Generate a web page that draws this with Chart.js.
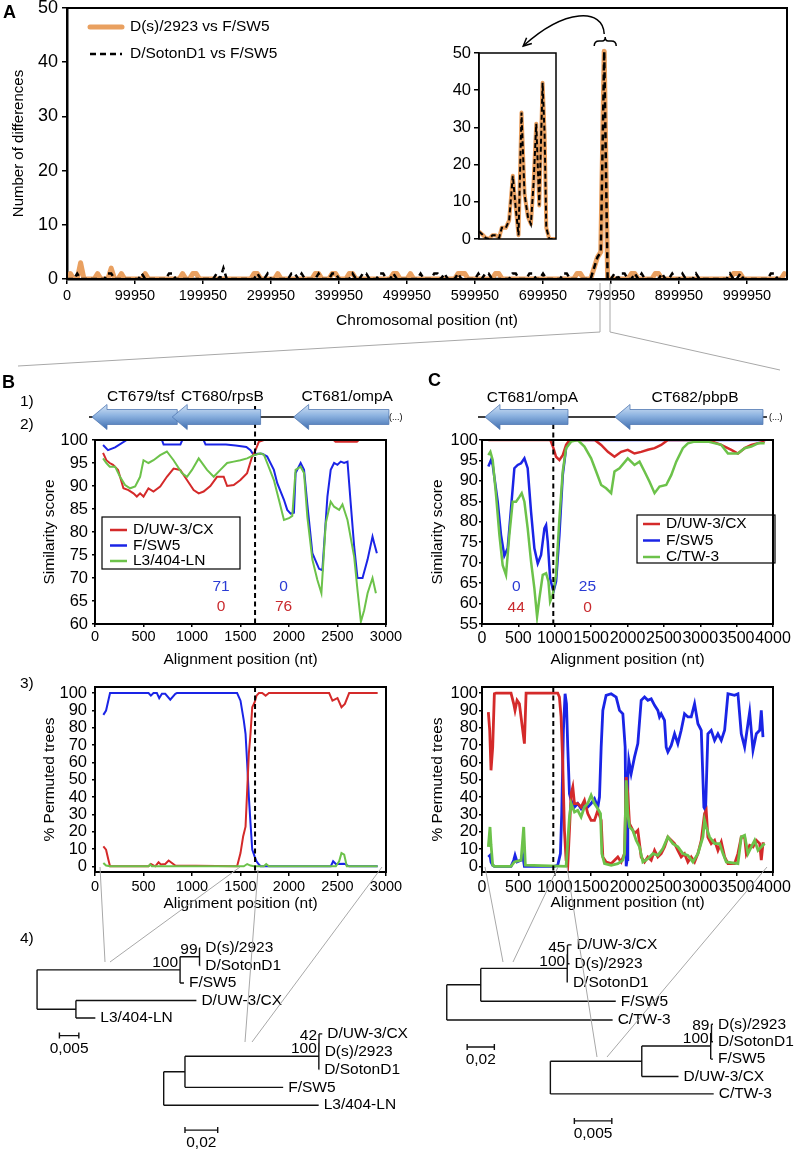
<!DOCTYPE html>
<html>
<head>
<meta charset="utf-8">
<title>ompA recombination</title>
<script src="https://cdn.jsdelivr.net/npm/chart.js@4.4.0/dist/chart.umd.min.js"></script>
<style>
  body { margin: 0; background: #fff; }
  #page { position: relative; width: 794px; height: 1155px; overflow: hidden; font-family: "Liberation Sans", Arial, sans-serif; }
  canvas { position: absolute; }
  .t { position: absolute; font-size: 15.5px; line-height: 1; color: #000; white-space: nowrap; z-index: 5; }
  .p { font-weight: bold; font-size: 18px; }
  .s { font-size: 9px; }
</style>
</head>
<body>
<div id="page">
  <canvas id="cA" width="794" height="335" style="left:0;top:0"></canvas>
  <canvas id="cInset" width="120" height="210" style="left:440px;top:40px"></canvas>
  <canvas id="cB2" width="410" height="290" style="left:0;top:385px"></canvas>
  <canvas id="cC2" width="394" height="290" style="left:400px;top:385px"></canvas>
  <canvas id="cB3" width="410" height="240" style="left:0;top:675px"></canvas>
  <canvas id="cC3" width="394" height="240" style="left:400px;top:675px"></canvas>
  <canvas id="tB1" width="380" height="140" style="left:20px;top:925px"></canvas>
  <canvas id="tB2" width="290" height="145" style="left:140px;top:1010px"></canvas>
  <canvas id="tC1" width="374" height="150" style="left:420px;top:920px"></canvas>
  <canvas id="tC2" width="274" height="150" style="left:520px;top:1005px"></canvas>
  <canvas id="guides" width="794" height="1155" style="left:0;top:0;z-index:4;pointer-events:none"></canvas>

  <div class="t p" style="left:3px;top:3px">A</div>
  <div class="t p" style="left:2px;top:373px">B</div>
  <div class="t p" style="left:428px;top:371px">C</div>
  <div class="t" style="left:20px;top:393px">1)</div>
  <div class="t" style="left:20px;top:416px">2)</div>
  <div class="t" style="left:20px;top:675px">3)</div>
  <div class="t" style="left:20px;top:930px">4)</div>
  <div class="t s" style="left:389px;top:413px">(...)</div>
  <div class="t s" style="left:769px;top:413px">(...)</div>
</div>

<script>
// ---------- A: differences per 5 kb window along the chromosome ----------
const aStep = 5000;
const aTicks = [0, 99950, 199950, 299950, 399950, 499950, 599950, 699950, 799950, 899950, 999950];
const aSpikePos = 790000;
const aOrange = [
  0,1,0,0,3,0,0,0,0,1, 0,0,0,2,0,0,1,0,0,0,
  0,0,0,1,0,0,0,0,0,0, 0,0,0,0,1,0,0,1,1,0,
  0,0,0,0,0,0,0,0,0,0, 0,0,0,0,0,1,1,0,0,0,
  0,0,1,0,0,0,0,0,0,0, 0,0,0,1,1,0,0,0,1,1,
  0,0,0,1,1,0,0,0,0,0, 0,0,0,0,0,0,1,1,0,0,
  0,1,0,0,0,0,0,0,0,0, 0,0,0,0,0,1,1,1,0,0,
  0,0,0,0,0,0,1,1,0,0, 0,0,0,0,0,0,0,0,0,0,
  0,0,0,0,0,0,0,0,0,0, 1,1,0,0,0,2,4,5,42,0,
  0,0,0,0,0,0,1,1,0,0, 0,0,0,1,1,0,0,0,0,0,
  0,0,0,0,0,0,0,0,0,0, 0,0,0,0,0,0,1,1,1,0,
  0,0,0,0,0,0,0,0,0,0, 0,1
];
const aBlack = [
  0,0,0,1,0,0,0,0,0,0, 0,0,1,1,0,0,0,0,0,0,
  0,0,1,0,0,0,0,0,0,0, 1,1,0,0,0,0,0,0,0,0,
  0,0,0,0,1,0,2,0,0,0, 0,0,0,0,0,0,1,0,0,1,
  0,0,0,0,0,0,1,1,0,1, 0,0,0,0,1,0,0,0,1,1,
  0,0,0,0,1,0,0,1,1,0, 0,0,1,1,0,0,1,0,0,0,
  0,0,0,0,1,0,0,0,1,1, 0,1,0,0,0,1,0,0,0,0,
  0,1,0,1,1,0,0,0,0,0, 0,1,1,0,0,0,1,1,0,0,
  1,0,0,0,0,0,1,1,0,0, 0,0,0,0,0,2,4,5,42,0,
  0,1,0,1,1,0,0,1,0,1, 0,0,0,0,0,1,0,0,1,0,
  0,1,0,0,0,1,0,0,0,0, 0,0,0,0,0,1,0,0,1,0,
  0,0,0,0,0,0,0,1,1,0, 0,0
];
// inset: zoom on the peak (window index, differences)
const insetPos  = [0, 1, 2, 3, 4, 5, 6, 6.8, 8, 9, 10.1, 10.9, 11.8, 12.7, 13.6, 14.6, 15.5, 16.3, 17.1, 18, 19, 19.6, 20.1, 21, 23];
const insetVals = [2, 1.2, 0.3, 0, 1, 1, 0.3, 3, 3, 5, 17, 9, 1, 34, 12, 6, 4, 15, 31, 9, 42, 28, 3, 0, 0];

// ---------- B: CT679-CT681 region ----------
const bTicksX = [0, 500, 1000, 1500, 2000, 2500, 3000];
const bTicksSim = [60, 65, 70, 75, 80, 85, 90, 95, 100];
const bBreak = 1650;
const bGeneNames = ["CT679/tsf", "CT680/rpsB", "CT681/ompA"];
const bGeneTip = [-31, 796, 2048];
const bGeneTail = [848, 1707, 3030];
const bMapSpan = [-62, 3030];
const bCountX = [1300, 1944];
const bCountsBlue = [71, 0];
const bCountsRed = [0, 76];
const b2Red = [[83,97.2],[117,95.6],[152,95],[186,94.6],[238,93.5],[293,89.5],[345,89.1],[396,88.4],[431,87.7],[465,88.4],[500,87.7],[551,89.5],[603,88.8],[672,89.9],[741,92],[810,93.8],[879,93.5],[948,91.3],[1017,89.1],[1069,88.4],[1120,88.8],[1189,90],[1258,92],[1327,92],[1362,90],[1430,90.2],[1499,91.3],[1568,92.8],[1620,96.4],[1655,97.8],[1689,99.6],[1741,100],[2460,100],[2480,99.6],[2700,99.6],[2720,100],[2920,100]];
const b2Blue = [[83,98.9],[134,97.8],[207,98.4],[327,100],[690,100],[707,99],[880,99],[900,100],[1120,100],[1140,99],[1350,99],[1450,98.8],[1560,98.5],[1603,97.8],[1637,96.7],[1672,97],[1723,97],[1741,96.8],[1775,96.4],[1844,93.5],[1879,90.6],[1948,87],[1982,84.8],[2017,84],[2051,84.2],[2068,92.8],[2120,95],[2155,93.5],[2189,86],[2241,75.4],[2310,72],[2344,71.7],[2396,87.7],[2430,93.5],[2465,95],[2499,94.6],[2534,95.3],[2568,95],[2603,95.3],[2637,86],[2672,76.8],[2706,70],[2758,70],[2810,74],[2861,79],[2879,77.5],[2906,75.4]];
const b2Green = [[83,96],[117,95],[152,94.2],[207,94.2],[258,92],[310,90.2],[362,89.5],[414,89.9],[465,92],[500,95.6],[551,95],[603,95.6],[672,96.7],[741,97.5],[810,95.6],[896,92.8],[948,92],[1000,93.5],[1069,96],[1155,93.5],[1224,92],[1292,93.5],[1362,95],[1430,95.3],[1499,95.6],[1568,96],[1637,96.7],[1706,97.1],[1741,96.8],[1775,95],[1844,91.3],[1896,87],[1948,82.6],[2000,83],[2034,83.5],[2068,93.5],[2120,94.2],[2155,92.8],[2189,83.3],[2241,74],[2292,69.6],[2334,66.7],[2379,81.9],[2430,86.6],[2465,85.5],[2517,84.8],[2551,86],[2603,82.6],[2672,74.6],[2706,67.4],[2741,60.5],[2775,63],[2810,66.7],[2861,70],[2896,66.7]];
const b3Red = [[86,11.5],[114,9.6],[138,3.8],[155,0],[552,0],[576,1.3],[621,0],[655,2.3],[679,1],[724,1.3],[759,3.3],[793,1.9],[828,0.4],[1465,0],[1500,7.6],[1527,17.2],[1552,22.9],[1569,44],[1586,65],[1603,76.5],[1621,91.8],[1645,94.6],[1665,98.5],[1690,100],[1724,100],[1759,98.5],[1793,100],[2414,100],[2448,95.6],[2500,97.1],[2541,91.8],[2576,93.7],[2620,100],[2914,100]];
const b3Blue = [[86,87.4],[114,89.9],[155,100],[552,100],[576,98.5],[603,100],[638,100],[662,97.1],[690,99.6],[724,99.6],[776,96.2],[828,99.6],[845,100],[1465,100],[1500,95.6],[1534,84.1],[1552,76.5],[1569,59.3],[1586,40.2],[1603,24.9],[1621,9.6],[1645,5.7],[1665,2.9],[1690,1],[1707,0],[2431,0],[2455,2.9],[2483,1.3],[2569,1.5],[2620,0],[2914,0]];
const b3Green = [[86,1.9],[114,0.4],[155,0],[552,0],[569,1],[586,0],[1534,0],[1569,1.3],[1603,0.4],[1638,0],[1741,0],[1765,1.3],[1793,0],[2483,0],[2517,2.9],[2541,7.6],[2569,6.7],[2596,0],[2914,0]];

// ---------- C: CT681-CT682 region ----------
const cTicksX = [0, 500, 1000, 1500, 2000, 2500, 3000, 3500, 4000];
const cTicksSim = [55, 60, 65, 70, 75, 80, 85, 90, 95, 100];
const cBreak = 980;
const cGeneNames = ["CT681/ompA", "CT682/pbpB"];
const cGeneTip = [41, 1828];
const cGeneTail = [1182, 3862];
const cMapSpan = [-55, 3917];
const cCountX = [470, 1450];
const cCountsBlue = [0, 25];
const cCountsRed = [44, 0];
const c2Red = [[87,100],[940,100],[982,98],[1018,95.9],[1064,95.1],[1110,96.3],[1156,98.8],[1202,100],[1550,100],[1638,98.8],[1730,97.1],[1821,95.9],[1913,97.1],[2004,97.6],[2096,96.7],[2188,97.1],[2280,97.6],[2372,98],[2463,98.8],[2555,100],[3105,100],[3289,98.8],[3427,97.6],[3518,96.7],[3610,98],[3702,98.8],[3794,99.2],[3885,99.6]];
const c2Blue = [[87,93.5],[124,95.1],[147,93.9],[216,84.9],[261,76.8],[307,71.7],[353,73.5],[399,83.3],[445,93.1],[491,93.9],[537,94.3],[583,95.5],[628,93.1],[674,82.5],[720,73.5],[766,69.8],[812,71.9],[858,78.4],[881,79.2],[904,75.1],[936,66.2],[982,62.9],[1018,65.4],[1064,76.8],[1110,91.4],[1156,98],[1202,100],[3900,100]];
const c2Green = [[87,96.3],[115,97.1],[147,95.1],[193,86.5],[239,76.8],[284,69.4],[330,67],[376,76.8],[422,84.9],[468,84.9],[514,86.1],[546,87],[583,84.9],[628,78.4],[674,70.3],[720,63.7],[757,56.8],[789,61.3],[835,67],[881,67.4],[913,65.4],[936,60.5],[972,62.1],[1018,67],[1064,80.8],[1110,92.3],[1156,98],[1225,99.6],[1316,100],[1408,98.4],[1500,95.5],[1569,92.3],[1638,89],[1706,88.2],[1775,87],[1821,92.3],[1890,93.1],[2004,95.5],[2096,93.9],[2165,94.7],[2234,92.3],[2303,89.8],[2372,87],[2440,88.6],[2532,89],[2601,91.4],[2670,94.7],[2761,98],[2830,99.2],[2922,99.6],[3105,99.6],[3289,98.8],[3381,96.7],[3518,96.7],[3610,98],[3702,98.4],[3794,99.2],[3885,99.2]];
const c3Red = [[87,89],[106,78.5],[124,55.4],[147,68.8],[170,99.6],[193,100],[399,100],[436,93.8],[454,90],[482,95.8],[514,93.8],[560,78.5],[583,70.8],[606,100],[1041,100],[1064,97.7],[1087,86.2],[1110,59.2],[1133,20.8],[1156,3.5],[1179,0.6],[1202,20.8],[1225,41.9],[1248,45.8],[1271,36.2],[1316,36.2],[1362,34.2],[1408,38.1],[1454,30.4],[1500,26.5],[1546,26.5],[1592,32.3],[1638,26.5],[1661,5.4],[1706,2.5],[1775,1.5],[1867,5.4],[1913,2.5],[1959,7.3],[1982,51.5],[2004,41.9],[2027,24.6],[2050,22.7],[2096,18.8],[2142,20.8],[2188,5.4],[2234,2.5],[2280,5.4],[2326,3.5],[2372,9.2],[2417,5.4],[2463,7.3],[2509,11.2],[2555,16.9],[2601,15],[2647,13.1],[2692,9.2],[2738,5.4],[2784,7.3],[2830,2.5],[2876,5.4],[2922,2.5],[2968,7.3],[3014,15],[3059,30.4],[3082,32.3],[3105,16.9],[3151,13.1],[3197,15],[3243,9.2],[3289,14],[3335,5.4],[3381,1.5],[3472,1.5],[3518,7.3],[3564,16.9],[3610,16.9],[3633,7.3],[3679,12.1],[3725,11.2],[3771,15],[3817,13.1],[3839,3.5],[3862,13.1],[3885,13.1]];
const c3Blue = [[87,5.4],[110,6.3],[124,2.5],[147,0.6],[170,0],[399,0],[436,3.5],[454,6.3],[482,2.5],[537,3.5],[560,6.3],[583,0],[995,0],[1041,0.6],[1078,7.3],[1096,30.4],[1119,78.5],[1142,99.6],[1161,93.8],[1179,68.8],[1202,41.9],[1225,38.1],[1271,34.2],[1316,36.2],[1362,33.3],[1408,36.2],[1454,34.2],[1500,36.2],[1546,39],[1592,34.2],[1615,40],[1638,68.8],[1661,90],[1706,98.7],[1775,99.6],[1844,97.7],[1890,90],[1936,88],[1968,68.8],[1982,0],[1995,3.8],[2004,49.6],[2018,61.2],[2050,53.5],[2096,63],[2142,70.8],[2188,95.8],[2234,97.7],[2280,95.8],[2326,96.7],[2372,92.9],[2417,90],[2440,86.2],[2463,88],[2509,84.2],[2532,68.8],[2555,66],[2601,69.8],[2647,76.5],[2692,70.8],[2738,78.5],[2784,88],[2830,86.2],[2876,86.2],[2922,93.8],[2968,82.3],[3014,78.5],[3050,34.2],[3073,32.3],[3105,76.5],[3151,78.5],[3197,72.7],[3243,76.5],[3289,72.7],[3335,78.5],[3381,99.6],[3472,98.7],[3518,99.6],[3564,76.5],[3610,68.8],[3656,82.3],[3679,89],[3725,67],[3771,76.5],[3817,78.5],[3839,90],[3862,74.6]];
const c3Green = [[87,11.2],[110,22.7],[124,12.6],[147,0.6],[170,0],[399,0],[445,2.5],[537,3.5],[573,22.7],[596,0.6],[1156,0],[1202,28.5],[1225,36.2],[1271,31.3],[1316,32.3],[1362,28.5],[1408,34.2],[1454,36.2],[1500,41],[1546,36.2],[1592,33.3],[1629,30.4],[1647,7.3],[1684,1.5],[1775,0.6],[1867,1.5],[1936,3.5],[1959,7.3],[1982,49.6],[2004,30.4],[2027,22.7],[2073,20.8],[2119,15],[2165,11.2],[2211,2.5],[2280,4.4],[2349,7.3],[2417,6.3],[2486,10.2],[2555,16.9],[2624,13.1],[2692,11.2],[2761,7.3],[2830,6.3],[2899,2.5],[2968,7.3],[3037,16.9],[3059,26.5],[3082,22.7],[3128,16.9],[3197,13.1],[3266,13.1],[3312,7.3],[3358,2.5],[3518,1.5],[3564,16.9],[3610,17.9],[3656,7.3],[3702,11.2],[3748,15],[3794,9.2],[3839,11.2],[3885,13.1]];
const permTicks = [0, 10, 20, 30, 40, 50, 60, 70, 80, 90, 100];

// ---------- trees (branch lengths, bootstrap) ----------
function leaf(len, name) { return { len, name }; }
function clade(len, support, kids) { return { len, support, kids }; }
const treeB1 = clade(0, "", [
  clade(0.0368, "100", [
    clade(0.005, "99", [leaf(0.0002, "D(s)/2923"), leaf(0.0002, "D/SotonD1")]),
    leaf(0.001, "F/SW5")]),
  clade(0.01, "", [leaf(0.031, "D/UW-3/CX"), leaf(0.005, "L3/404-LN")])
]);
const treeB2 = clade(0, "", [
  clade(0.013, "", [
    clade(0.0818, "100", [
      clade(0.0001, "42", [leaf(0.002, "D/UW-3/CX"), leaf(0.0004, "D(s)/2923")]),
      leaf(0.0002, "D/SotonD1")]),
    leaf(0.06, "F/SW5")]),
  leaf(0.0947, "L3/404-LN")
]);
const treeC1 = clade(0, "", [
  clade(0.025, "", [
    clade(0.0636, "100", [
      clade(0.0002, "45", [leaf(0.003, "D/UW-3/CX"), leaf(0.0015, "D(s)/2923")]),
      leaf(0.0005, "D/SotonD1")]),
    leaf(0.0993, "F/SW5")]),
  leaf(0.122, "C/TW-3")
]);
const treeC2 = clade(0, "", [
  clade(0.0122, "", [
    clade(0.0092, "100", [
      clade(0.0001, "89", [leaf(0.0002, "D(s)/2923"), leaf(0.0002, "D/SotonD1")]),
      leaf(0.0003, "F/SW5")]),
    leaf(0.0049, "D/UW-3/CX")]),
  leaf(0.0218, "C/TW-3")
]);

// ---------- styles ----------
const FONT = '"Liberation Sans", Arial, sans-serif';
const RED = "#d42a2a", BLUE = "#1a24e6", GREEN = "#6cc24a", ORANGE = "#e9a060";
Chart.defaults.font.family = FONT;
Chart.defaults.color = "#000";
Chart.defaults.animation = false;
Chart.defaults.responsive = false;
Chart.defaults.devicePixelRatio = 1;
Chart.defaults.plugins.legend.display = false;
Chart.defaults.plugins.tooltip.enabled = false;
Chart.defaults.elements.point.radius = 0;

function frame(w) {
  return {
    id: "frame",
    afterDatasetsDraw(chart) {
      const { ctx, chartArea: a } = chart;
      ctx.save();
      ctx.strokeStyle = "#000";
      ctx.lineWidth = w;
      ctx.strokeRect(a.left, a.top, a.right - a.left, a.bottom - a.top);
      ctx.restore();
    }
  };
}

function xAxis(min, max, ticks, o) {
  return {
    type: "linear", min, max,
    afterBuildTicks: s => { s.ticks = ticks.map(v => ({ value: v })); },
    afterFit: s => { s.height = o.h; s.paddingLeft = 0; s.paddingRight = 0; },
    border: { color: "#000", width: o.bw || 2 },
    grid: { drawOnChartArea: false, color: "#000", lineWidth: 1.5, tickLength: o.tl },
    ticks: { font: { size: o.fs }, padding: o.tp, maxRotation: 0, autoSkip: false, callback: v => String(v) },
    title: o.title ? { display: true, text: o.title, font: { size: 15.5 }, padding: { top: 0, bottom: o.titlePad } } : { display: false }
  };
}
function yAxis(min, max, ticks, o) {
  return {
    type: "linear", min, max,
    afterBuildTicks: s => { s.ticks = ticks.map(v => ({ value: v })); },
    afterFit: s => { s.width = o.w; s.paddingTop = 0; s.paddingBottom = 0; },
    border: { color: "#000", width: o.bw || 2 },
    grid: { drawOnChartArea: false, color: "#000", lineWidth: 1.5, tickLength: o.tl },
    ticks: { font: { size: o.fs }, padding: o.tp, autoSkip: false, callback: v => String(v) },
    title: o.title ? { display: true, text: o.title, font: { size: o.titleSize || 15.5 }, padding: { top: o.titlePad, bottom: 0 } } : { display: false }
  };
}

// legend drawn in the canvas at fixed spots
function seriesKey(o) {
  return {
    id: "seriesKey",
    afterDraw(chart) {
      const ctx = chart.ctx;
      ctx.save();
      if (o.box) {
        ctx.strokeStyle = "#000"; ctx.lineWidth = 1.2;
        ctx.strokeRect(o.box[0], o.box[1], o.box[2], o.box[3]);
      }
      ctx.font = "15.5px " + FONT;
      ctx.textBaseline = "middle";
      chart.data.datasets.forEach((ds, i) => {
        const y = o.y + i * o.rowH;
        ctx.strokeStyle = ds.borderColor;
        ctx.lineWidth = o.lw || ds.borderWidth;
        ctx.lineCap = ds.borderCapStyle || "butt";
        ctx.setLineDash(ds.borderDash || []);
        ctx.beginPath(); ctx.moveTo(o.x, y); ctx.lineTo(o.x + o.len, y); ctx.stroke();
        ctx.setLineDash([]);
        ctx.fillStyle = "#000";
        ctx.fillText(ds.label, o.x + o.len + o.gap, y);
      });
      ctx.restore();
    }
  };
}

function breakLine(pos, topPx) {
  return {
    id: "breakLine",
    afterDatasetsDraw(chart) {
      const { ctx, chartArea: a, scales: { x } } = chart;
      const px = x.getPixelForValue(pos);
      ctx.save();
      ctx.strokeStyle = "#000"; ctx.lineWidth = 2; ctx.setLineDash([5, 3.5]);
      ctx.beginPath(); ctx.moveTo(px, topPx == null ? a.top : topPx); ctx.lineTo(px, a.bottom); ctx.stroke();
      ctx.restore();
    }
  };
}

function geneMap(names, tips, tails, span, y, labelY) {
  return {
    id: "geneMap",
    afterDraw(chart) {
      const { ctx, scales: { x } } = chart;
      ctx.save();
      ctx.strokeStyle = "#000"; ctx.lineWidth = 1.5;
      ctx.beginPath(); ctx.moveTo(x.getPixelForValue(span[0]), y); ctx.lineTo(x.getPixelForValue(span[1]), y); ctx.stroke();
      names.forEach((name, i) => {
        const xt = x.getPixelForValue(tips[i]), xb = x.getPixelForValue(tails[i]);
        const hl = 15, bh = 7.5, hh = 12.5;
        const g = ctx.createLinearGradient(0, y - hh, 0, y + hh);
        g.addColorStop(0, "#d4e4f5"); g.addColorStop(0.45, "#8cb2e0"); g.addColorStop(1, "#3e6cae");
        ctx.beginPath();
        ctx.moveTo(xt, y); ctx.lineTo(xt + hl, y - hh); ctx.lineTo(xt + hl, y - bh); ctx.lineTo(xb, y - bh);
        ctx.lineTo(xb, y + bh); ctx.lineTo(xt + hl, y + bh); ctx.lineTo(xt + hl, y + hh); ctx.closePath();
        ctx.fillStyle = g; ctx.fill();
        ctx.strokeStyle = "#5279b2"; ctx.lineWidth = 0.8; ctx.stroke();
        ctx.fillStyle = "#000"; ctx.font = "15.5px " + FONT; ctx.textAlign = "center"; ctx.textBaseline = "middle";
        ctx.fillText(name, (xt + xb) / 2 + 6, labelY);
      });
      ctx.restore();
    }
  };
}

function counts(xs, blue, red, yBlue, yRed) {
  return {
    id: "counts",
    afterDraw(chart) {
      const { ctx, scales: { x, y } } = chart;
      ctx.save();
      ctx.font = "15.5px " + FONT; ctx.textAlign = "center"; ctx.textBaseline = "middle";
      xs.forEach((v, i) => {
        ctx.fillStyle = "#2a3bd4"; ctx.fillText(String(blue[i]), x.getPixelForValue(v), y.getPixelForValue(yBlue));
        ctx.fillStyle = "#c92a2e"; ctx.fillText(String(red[i]), x.getPixelForValue(v), y.getPixelForValue(yRed));
      });
      ctx.restore();
    }
  };
}

function lineSet(label, pts, color, width, order) {
  return { label, data: pts.map(p => ({ x: p[0], y: p[1] })), borderColor: color, borderWidth: width, order, pointRadius: 0 };
}

// ---------- panel A ----------
const calloutA = {
  id: "calloutA",
  afterDraw(chart) {
    const { ctx, scales: { x } } = chart;
    const sx = x.getPixelForValue(aSpikePos) + 1;
    ctx.save();
    ctx.strokeStyle = "#000"; ctx.lineWidth = 1.5;
    ctx.beginPath();
    ctx.moveTo(sx - 11, 46); ctx.quadraticCurveTo(sx - 11, 41, sx - 6, 41); ctx.lineTo(sx - 3, 41);
    ctx.quadraticCurveTo(sx, 41, sx, 37); ctx.quadraticCurveTo(sx, 41, sx + 3, 41); ctx.lineTo(sx + 6, 41);
    ctx.quadraticCurveTo(sx + 11, 41, sx + 11, 46);
    ctx.stroke();
    const tx = sx - 82, ty = 46;
    ctx.beginPath(); ctx.moveTo(sx - 1, 34); ctx.bezierCurveTo(sx - 2, 8, sx - 40, 8, tx, ty); ctx.stroke();
    const ang = Math.atan2(ty - 8, tx - (sx - 40));
    ctx.beginPath();
    ctx.moveTo(tx - 9 * Math.cos(ang - 0.45), ty - 9 * Math.sin(ang - 0.45));
    ctx.lineTo(tx, ty);
    ctx.lineTo(tx - 9 * Math.cos(ang + 0.45), ty - 9 * Math.sin(ang + 0.45));
    ctx.stroke();
    ctx.restore();
  }
};

new Chart(document.getElementById("cA"), {
  type: "line",
  data: {
    datasets: [
      { label: "D(s)/2923 vs F/SW5", data: aOrange.map((v, i) => ({ x: i * aStep, y: v })), borderColor: ORANGE, borderWidth: 5,
        borderCapStyle: "round", borderJoinStyle: "round", order: 2 },
      { label: "D/SotonD1 vs F/SW5", data: aBlack.map((v, i) => ({ x: i * aStep, y: v })), borderColor: "#000", borderWidth: 2.5,
        borderDash: [6, 4], order: 1 }
    ]
  },
  options: {
    layout: { padding: { left: 0, top: 8, right: 7, bottom: 0 } },
    scales: {
      x: xAxis(0, 1058800, aTicks, { h: 56, tl: 5, tp: 3, fs: 14.5, bw: 2.5, title: "Chromosomal position (nt)", titlePad: 4.5 }),
      y: yAxis(0, 50, [0, 10, 20, 30, 40, 50], { w: 67, tl: 5, tp: 4, fs: 18, bw: 2.5, title: "Number of differences", titleSize: 15, titlePad: 10 })
    }
  },
  plugins: [frame(2), seriesKey({ x: 90, y: 27, rowH: 27, len: 32, gap: 8, lw: 0 }), calloutA]
});

new Chart(document.getElementById("cInset"), {
  type: "line",
  data: {
    datasets: [
      { label: "D(s)/2923 vs F/SW5", data: insetPos.map((p, i) => ({ x: p, y: insetVals[i] })), borderColor: ORANGE, borderWidth: 4,
        borderJoinStyle: "round", order: 2 },
      { label: "D/SotonD1 vs F/SW5", data: insetPos.map((p, i) => ({ x: p, y: insetVals[i] })), borderColor: "#000", borderWidth: 2,
        borderDash: [5, 3], order: 1 }
    ]
  },
  options: {
    layout: { padding: { left: 0, top: 13, right: 4, bottom: 11 } },
    scales: {
      x: { type: "linear", min: 0, max: 23, display: false },
      y: yAxis(0, 50, [0, 10, 20, 30, 40, 50], { w: 39, tl: 5, tp: 3, fs: 16.5, bw: 1.5 })
    }
  },
  plugins: [frame(1.5)]
});

// ---------- panel B ----------
new Chart(document.getElementById("cB2"), {
  type: "line",
  data: { datasets: [
    lineSet("D/UW-3/CX", b2Red, RED, 2, 2),
    lineSet("F/SW5", b2Blue, BLUE, 2, 3),
    lineSet("L3/404-LN", b2Green, GREEN, 2, 1)
  ] },
  options: {
    layout: { padding: { left: 0, top: 55, right: 24, bottom: 0 } },
    scales: {
      x: xAxis(0, 3000, bTicksX, { h: 51, tl: 3, tp: 1, fs: 14.5, title: "Alignment position (nt)", titlePad: 5.7 }),
      y: yAxis(60, 100, bTicksSim, { w: 95, tl: 3, tp: 4, fs: 16.5, title: "Similarity score", titlePad: 40 })
    }
  },
  plugins: [frame(2), breakLine(bBreak, 21), geneMap(bGeneNames, bGeneTip, bGeneTail, bMapSpan, 32, 12),
    counts(bCountX, bCountsBlue, bCountsRed, 68, 63.7),
    seriesKey({ x: 110, y: 145, rowH: 15.5, len: 17, gap: 6, lw: 2.5, box: [102, 132, 138, 52] })]
});

new Chart(document.getElementById("cB3"), {
  type: "line",
  data: { datasets: [
    lineSet("D/UW-3/CX", b3Red, RED, 2, 2),
    lineSet("F/SW5", b3Blue, BLUE, 2, 3),
    lineSet("L3/404-LN", b3Green, GREEN, 2, 1)
  ] },
  options: {
    layout: { padding: { left: 0, top: 12, right: 24, bottom: 0 } },
    scales: {
      x: xAxis(0, 3000, bTicksX, { h: 43, tl: 4, tp: 2, fs: 14.5, title: "Alignment position (nt)", titlePad: 1.7 }),
      y: yAxis(-3.3, 103.5, permTicks, { w: 95, tl: 3, tp: 5, fs: 16.5, title: "% Permuted trees", titlePad: 40 })
    }
  },
  plugins: [frame(2), breakLine(bBreak)]
});

// ---------- panel C ----------
new Chart(document.getElementById("cC2"), {
  type: "line",
  data: { datasets: [
    lineSet("D/UW-3/CX", c2Red, RED, 2.5, 2),
    lineSet("F/SW5", c2Blue, BLUE, 2.5, 3),
    lineSet("C/TW-3", c2Green, GREEN, 2.5, 1)
  ] },
  options: {
    layout: { padding: { left: 0, top: 55, right: 21, bottom: 0 } },
    scales: {
      x: xAxis(0, 4000, cTicksX, { h: 51, tl: 3, tp: 2, fs: 16, title: "Alignment position (nt)", titlePad: 5.7 }),
      y: yAxis(55, 100, cTicksSim, { w: 82, tl: 3, tp: 1, fs: 16.5, title: "Similarity score", titlePad: 28 })
    }
  },
  plugins: [frame(2), breakLine(cBreak, 22), geneMap(cGeneNames, cGeneTip, cGeneTail, cMapSpan, 32, 13),
    counts(cCountX, cCountsBlue, cCountsRed, 64, 58.9),
    seriesKey({ x: 243, y: 139, rowH: 16.5, len: 17, gap: 6, lw: 2.5, box: [237, 130, 138, 48] })]
});

new Chart(document.getElementById("cC3"), {
  type: "line",
  data: { datasets: [
    lineSet("D/UW-3/CX", c3Red, RED, 2.8, 2),
    lineSet("F/SW5", c3Blue, BLUE, 2.8, 3),
    lineSet("C/TW-3", c3Green, GREEN, 2.8, 1)
  ] },
  options: {
    layout: { padding: { left: 0, top: 12, right: 21, bottom: 0 } },
    scales: {
      x: xAxis(0, 4000, cTicksX, { h: 43, tl: 4, tp: 2, fs: 16, title: "Alignment position (nt)", titlePad: 2.7 }),
      y: yAxis(-3.3, 103.5, permTicks, { w: 82, tl: 3, tp: 1, fs: 16.5, title: "% Permuted trees", titlePad: 28 })
    }
  },
  plugins: [frame(2), breakLine(cBreak)]
});

// ---------- trees ----------
function drawTree(id, tree, lay) {
  const segs = [], tips = [], nodes = [];
  let k = 0;
  (function walk(n, x0) {
    n.x = x0 + n.len;
    if (!n.kids) { n.y = k++; tips.push(n); return; }
    n.kids.forEach(c => walk(c, n.x));
    const first = n.kids[0], last = n.kids[n.kids.length - 1];
    n.y = (first.y + last.y) / 2;
    segs.push({ x: n.x, y: first.y }, { x: n.x, y: last.y }, { x: n.x, y: null });
    n.kids.forEach(c => segs.push({ x: n.x, y: c.y }, { x: c.x, y: c.y }, { x: c.x, y: null }));
    if (n.support) nodes.push(n);
  })(tree, 0);

  const cv = document.getElementById(id);
  const xmin = -lay.rootX / lay.ppu, ymin = -lay.leafY0 / lay.gap;
  const bar = lay.bar;
  new Chart(cv, {
    type: "scatter",
    data: { datasets: [
      { data: segs, showLine: true, spanGaps: false, borderColor: "#111", borderWidth: 1.4, pointRadius: 0 },
      { data: [{ x: bar.x, y: bar.y }, { x: bar.x + bar.len, y: bar.y }], showLine: true, borderColor: "#111", borderWidth: 1.4,
        pointStyle: "line", pointRadius: 3, pointRotation: 90, pointBorderWidth: 1.4, pointBorderColor: "#111" }
    ] },
    options: {
      layout: { padding: 0 },
      scales: {
        x: { type: "linear", display: false, min: xmin, max: xmin + cv.width / lay.ppu },
        y: { type: "linear", display: false, reverse: true, min: ymin, max: ymin + cv.height / lay.gap }
      }
    },
    plugins: [{
      id: "treeText",
      afterDraw(chart) {
        const { ctx, scales: { x, y } } = chart;
        ctx.save();
        ctx.font = "15.5px " + FONT; ctx.fillStyle = "#000"; ctx.textBaseline = "middle";
        tips.forEach(t => ctx.fillText(t.name, x.getPixelForValue(t.x) + 5, y.getPixelForValue(t.y)));
        ctx.textAlign = "right";
        nodes.forEach(n => ctx.fillText(n.support, x.getPixelForValue(n.x) - 2, y.getPixelForValue(n.y) - 7));
        ctx.textAlign = "center";
        const bx = (x.getPixelForValue(bar.x) + x.getPixelForValue(bar.x + bar.len)) / 2;
        ctx.fillText(bar.label, bx, y.getPixelForValue(bar.y) + 13);
        ctx.restore();
      }
    }]
  });
}

drawTree("tB1", treeB1, { ppu: 4000, rootX: 12, leafY0: 19, gap: 19, bar: { x: 0.00575, y: 5, len: 0.005, label: "0,005" } });
drawTree("tB2", treeB2, { ppu: 1700, rootX: 19, leafY0: 20, gap: 19.25, bar: { x: 0.013, y: 5.4, len: 0.02, label: "0,02" } });
drawTree("tC1", treeC1, { ppu: 1400, rootX: 22, leafY0: 21, gap: 20.25, bar: { x: 0.015, y: 5.43, len: 0.02, label: "0,02" } });
drawTree("tC2", treeC2, { ppu: 7800, rootX: 26, leafY0: 15, gap: 18.75, bar: { x: 0.0032, y: 5.55, len: 0.005, label: "0,005" } });

// ---------- grey guide lines between panels ----------
const guides = [
  [[600, 283], [600, 332], [18, 366]],
  [[610, 283], [610, 332], [780, 370]],
  [[100, 867], [105, 962]], [[240, 867], [110, 962]], [[258, 870], [245, 1042]], [[382, 867], [252, 1042]],
  [[485, 867], [503, 962]], [[558, 867], [513, 962]], [[567, 867], [597, 1057]], [[767, 867], [607, 1057]]
];
const g = document.getElementById("guides").getContext("2d");
g.strokeStyle = "#a8a8a8";
g.lineWidth = 1;
guides.forEach(path => {
  g.beginPath();
  path.forEach((p, i) => (i ? g.lineTo(p[0], p[1]) : g.moveTo(p[0], p[1])));
  g.stroke();
});
</script>
</body>
</html>
